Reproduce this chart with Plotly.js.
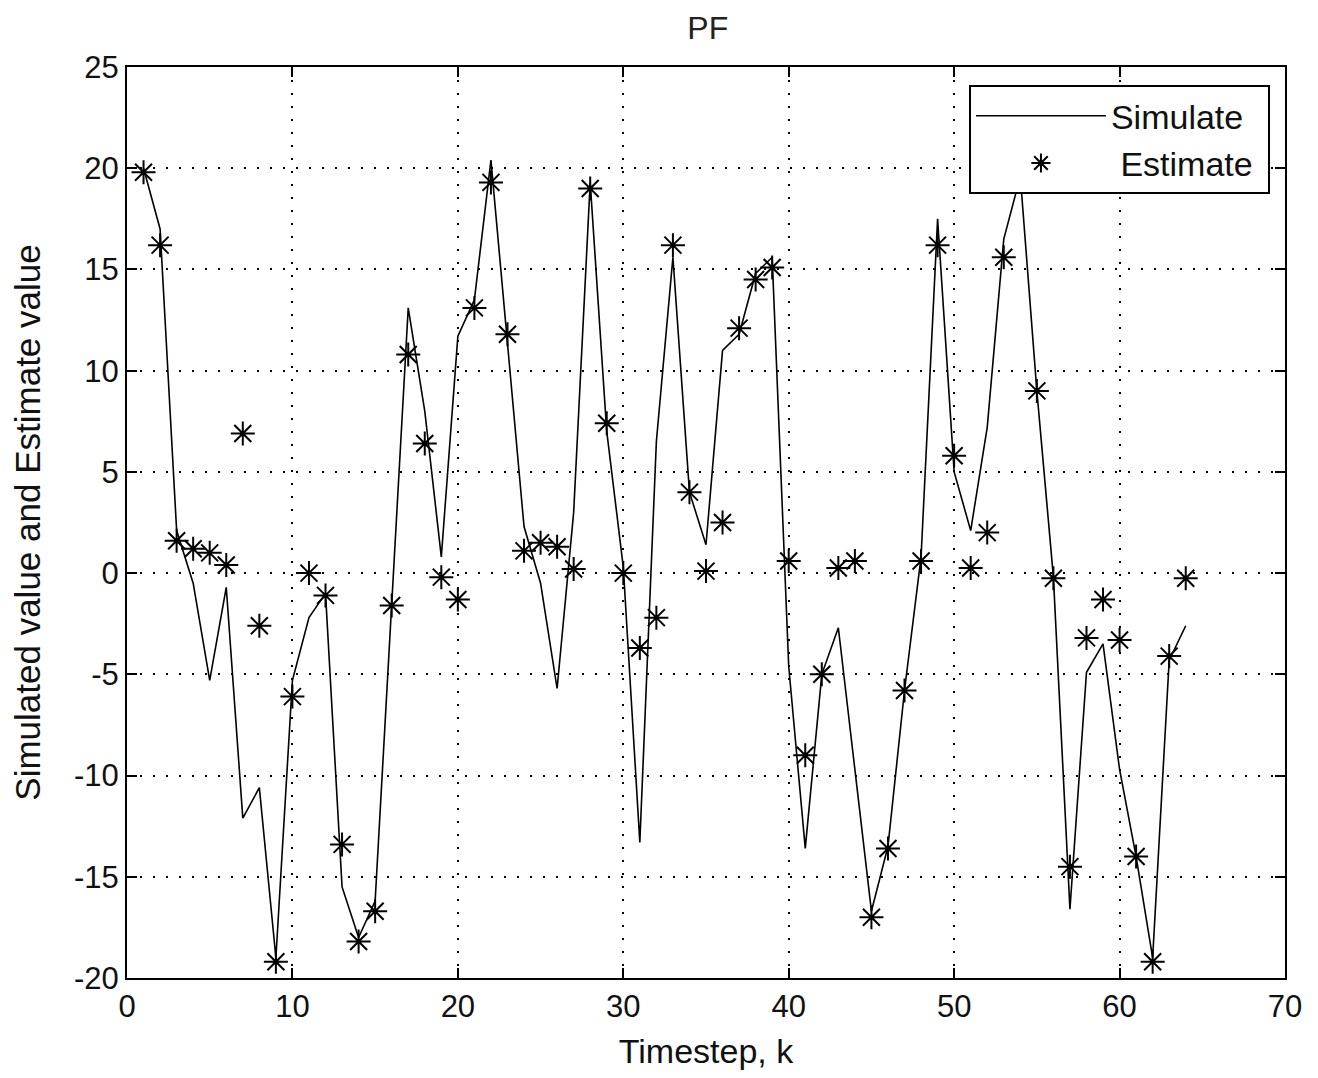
<!DOCTYPE html>
<html>
<head>
<meta charset="utf-8">
<script src="https://cdn.plot.ly/plotly-3.0.1.min.js"></script>
<style>html,body{margin:0;padding:0;background:#fff;}#chart{width:1318px;height:1078px;}</style>
</head>
<body>
<div id="chart"></div>
<script>
// Timesteps
var timestep = [1,2,3,4,5,6,7,8,9,10,11,12,13,14,15,16,17,18,19,20,21,22,23,24,25,26,27,28,29,30,31,32,
                33,34,35,36,37,38,39,40,41,42,43,44,45,46,47,48,49,50,51,52,53,54,55,56,57,58,59,60,61,62,63,64];
// Simulated value (line)
var simulated = [20.0,17.0,2.1,-0.5,-5.3,-0.7,-12.1,-10.6,-19.0,-5.3,-2.2,-1.0,-15.5,-18.0,-16.2,-1.5,
                 13.1,8.0,0.8,11.7,13.5,20.4,11.5,2.3,-0.5,-5.7,3.0,19.3,7.0,0.3,-13.3,6.5,
                 15.6,4.0,1.4,11.0,11.8,14.8,15.6,-4.6,-13.6,-5.0,-2.7,-9.8,-16.7,-13.5,-5.8,0.8,
                 17.5,5.0,2.1,7.2,16.5,19.6,9.0,-0.2,-16.6,-4.9,-3.5,-9.7,-14.0,-19.0,-4.3,-2.6];
// Estimate value (stars)
var estimated = [19.8,16.2,1.6,1.2,1.0,0.4,6.9,-2.6,-19.2,-6.1,0.0,-1.1,-13.4,-18.2,-16.7,-1.6,
                 10.8,6.4,-0.2,-1.3,13.1,19.3,11.8,1.1,1.5,1.3,0.2,19.0,7.4,0.0,-3.7,-2.2,
                 16.2,4.0,0.1,2.5,12.1,14.5,15.1,0.6,-9.0,-5.0,0.25,0.6,-17.0,-13.6,-5.8,0.6,
                 16.2,5.8,0.25,2.0,15.6,20.5,9.0,-0.25,-14.5,-3.2,-1.3,-3.3,-14.0,-19.2,-4.1,-0.25];
var xTicks = [0,10,20,30,40,50,60,70];
var yTicks = [-20,-15,-10,-5,0,5,10,15,20,25];
var seriesNames = ['Simulate', '\u00a0Estimate\u00a0'];

var FONT = '"Liberation Sans", Arial, sans-serif';
var traces = [
  {x: timestep, y: simulated, type: 'scatter', mode: 'lines', name: seriesNames[0],
   line: {color: '#000', width: 1.6}},
  {x: timestep, y: estimated, type: 'scatter', mode: 'markers', name: seriesNames[1],
   marker: {symbol: 'asterisk-open', size: 20, color: '#000', line: {color: '#000', width: 2}}}
];
var axisCommon = {
  showline: true, linecolor: '#000', linewidth: 2, mirror: 'ticks',
  ticks: 'inside', ticklen: 10, tickwidth: 2, tickcolor: '#000',
  showgrid: true, gridcolor: '#000', gridwidth: 2, griddash: '2px,11px',
  zeroline: false, tickfont: {family: FONT, size: 31, color: '#111'}
};
var layout = {
  width: 1318, height: 1078,
  paper_bgcolor: '#fff', plot_bgcolor: '#fff',
  margin: {l: 127, r: 33, t: 67, b: 100},
  title: {text: 'PF', font: {family: FONT, size: 32, color: '#222'},
          x: 0.537, xanchor: 'center', y: 0.974, yanchor: 'middle', yref: 'container'},
  xaxis: Object.assign({}, axisCommon, {
    range: [0, 70], tickvals: xTicks, ticktext: xTicks.map(String),
    title: {text: 'Timestep, k', font: {family: FONT, size: 34, color: '#111'}, standoff: 16}
  }),
  yaxis: Object.assign({}, axisCommon, {
    range: [-20, 25], tickvals: yTicks, ticktext: yTicks.map(String),
    title: {text: 'Simulated value and Estimate value', font: {family: FONT, size: 35, color: '#111'}, standoff: 23}
  }),
  showlegend: true,
  legend: {x: 0.987, y: 0.980, xanchor: 'right', yanchor: 'top',
           bgcolor: '#fff', bordercolor: '#000', borderwidth: 2,
           font: {family: FONT, size: 34, color: '#111'}, itemwidth: 130}
};
Plotly.newPlot('chart', traces, layout, {displayModeBar: false, staticPlot: true});
</script>
</body>
</html>
